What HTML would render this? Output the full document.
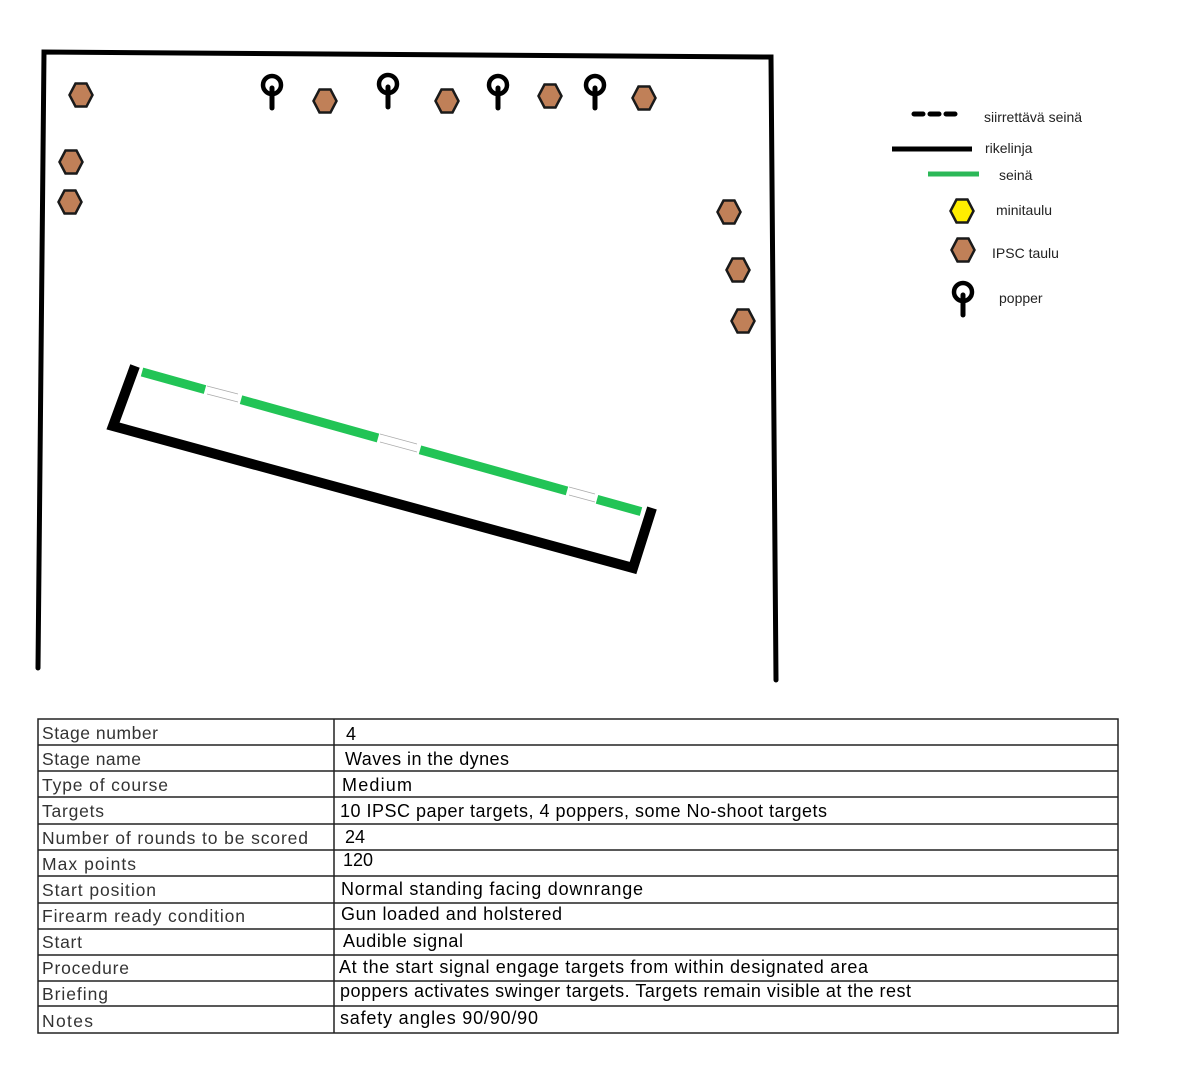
<!DOCTYPE html>
<html><head><meta charset="utf-8"><style>html,body{margin:0;padding:0;background:#fff}svg{display:block}</style></head>
<body>
<svg width="1200" height="1082" viewBox="0 0 1200 1082" xmlns="http://www.w3.org/2000/svg">
<defs>
<polygon id="hx" points="-11.5,0 -5.5,-11.5 5.5,-11.5 11.5,0 5.5,11.5 -5.5,11.5" stroke="#1a1a1a" stroke-width="2.5"/>
<g id="pp"><circle cx="0" cy="0" r="9" fill="none" stroke="#000" stroke-width="4.5"/><line x1="0" y1="3" x2="0" y2="23" stroke="#000" stroke-width="5" stroke-linecap="round"/></g>
</defs>
<rect width="1200" height="1082" fill="#fff"/>
<path d="M38,668 L44,52 L771,57 L776,680" fill="none" stroke="#000" stroke-width="5" stroke-linecap="round" stroke-linejoin="miter"/>
<g fill="#c08058">
<use href="#hx" x="81" y="95"/><use href="#hx" x="325" y="101"/><use href="#hx" x="447" y="101"/>
<use href="#hx" x="550" y="96"/><use href="#hx" x="644" y="98"/><use href="#hx" x="71" y="162"/>
<use href="#hx" x="70" y="202"/><use href="#hx" x="729" y="212"/><use href="#hx" x="738" y="270"/>
<use href="#hx" x="743" y="321"/>
</g>
<use href="#pp" x="272" y="85"/><use href="#pp" x="388" y="84"/><use href="#pp" x="498" y="85"/><use href="#pp" x="595" y="85"/>
<path d="M135,366 L113,426 L633,568 L652,508" fill="none" stroke="#000" stroke-width="10"/>
<g stroke="#22c456" stroke-width="9">
<line x1="142" y1="372" x2="205" y2="389.6"/>
<line x1="241" y1="399.7" x2="378" y2="438"/>
<line x1="420" y1="449.8" x2="567" y2="490.9"/>
<line x1="597" y1="499.3" x2="641" y2="511.6"/>
</g>
<g stroke="#aaa" stroke-width="0.8">
<line x1="207" y1="386" x2="238" y2="394"/><line x1="207" y1="394" x2="238" y2="402"/>
<line x1="380" y1="434" x2="417" y2="444"/><line x1="380" y1="442" x2="417" y2="452"/>
<line x1="569" y1="487" x2="595" y2="494"/><line x1="569" y1="495" x2="595" y2="502"/>
</g>
<line x1="914" y1="114" x2="956" y2="114" stroke="#000" stroke-width="5" stroke-dasharray="9,7" stroke-linecap="round"/>
<line x1="892" y1="149" x2="972" y2="149" stroke="#000" stroke-width="5"/>
<line x1="928" y1="174" x2="979" y2="174" stroke="#2cb858" stroke-width="5"/>
<use href="#hx" x="962" y="211" fill="#ffee00"/>
<use href="#hx" x="963" y="250" fill="#c08058"/>
<use href="#pp" x="963" y="292"/>
<g font-family="'Liberation Sans',sans-serif" font-size="14" fill="#222">
<text x="984" y="122">siirrettävä seinä</text>
<text x="985" y="153">rikelinja</text>
<text x="999" y="180">seinä</text>
<text x="996" y="215">minitaulu</text>
<text x="992" y="258">IPSC taulu</text>
<text x="999" y="303">popper</text>
</g>
<g stroke="#222" stroke-width="1.5" fill="none">
<rect x="38" y="719" width="1080" height="314"/>
<line x1="334" y1="719" x2="334" y2="1033"/>
<line x1="38" y1="745" x2="1118" y2="745"/><line x1="38" y1="771" x2="1118" y2="771"/>
<line x1="38" y1="797" x2="1118" y2="797"/><line x1="38" y1="824" x2="1118" y2="824"/>
<line x1="38" y1="850" x2="1118" y2="850"/><line x1="38" y1="876" x2="1118" y2="876"/>
<line x1="38" y1="903" x2="1118" y2="903"/><line x1="38" y1="929" x2="1118" y2="929"/>
<line x1="38" y1="955" x2="1118" y2="955"/><line x1="38" y1="981" x2="1118" y2="981"/>
<line x1="38" y1="1006" x2="1118" y2="1006"/>
</g>
<g font-family="'Liberation Sans',sans-serif" font-size="17.5" fill="#333">
<text x="42" y="739" textLength="116">Stage number</text>
<text x="42" y="765" textLength="99">Stage name</text>
<text x="42" y="791" textLength="126">Type of course</text>
<text x="42" y="817" textLength="62">Targets</text>
<text x="42" y="844" textLength="266">Number of rounds to be scored</text>
<text x="42" y="870" textLength="94">Max points</text>
<text x="42" y="896" textLength="114">Start position</text>
<text x="42" y="922" textLength="203">Firearm ready condition</text>
<text x="42" y="948" textLength="40">Start</text>
<text x="42" y="974" textLength="87">Procedure</text>
<text x="42" y="1000" textLength="66">Briefing</text>
<text x="42" y="1027" textLength="51">Notes</text>
</g>
<g font-family="'Liberation Sans',sans-serif" font-size="18" fill="#000">
<text x="346" y="740" textLength="10">4</text>
<text x="345" y="765" textLength="164">Waves in the dynes</text>
<text x="342" y="791" textLength="70">Medium</text>
<text x="340" y="817" textLength="487">10 IPSC paper targets, 4 poppers, some No-shoot targets</text>
<text x="345" y="843" textLength="20">24</text>
<text x="343" y="866" textLength="30">120</text>
<text x="341" y="895" textLength="302">Normal standing facing downrange</text>
<text x="341" y="920" textLength="221">Gun loaded and holstered</text>
<text x="343" y="947" textLength="120">Audible signal</text>
<text x="339" y="973" textLength="529">At the start signal engage targets from within designated area</text>
<text x="340" y="997" textLength="571">poppers activates swinger targets. Targets remain visible at the rest</text>
<text x="340" y="1024" textLength="198">safety angles 90/90/90</text>
</g>
</svg>
</body></html>
